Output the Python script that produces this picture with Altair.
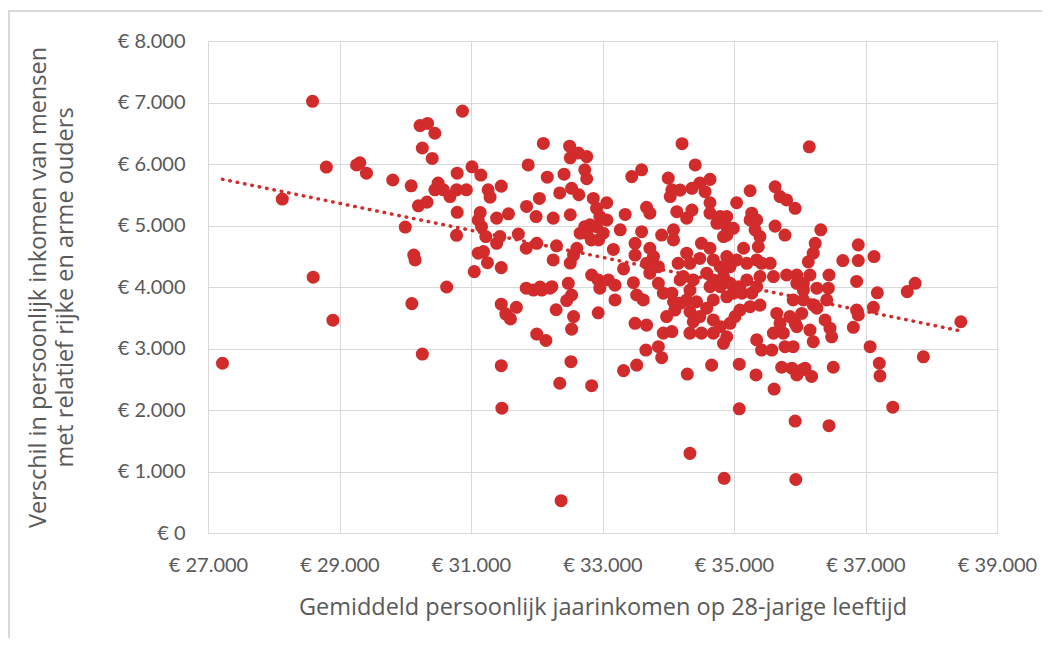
import altair as alt
import pandas as pd

# Gemiddeld persoonlijk jaarinkomen op 28-jarige leeftijd (euro)
inkomen = [
    27220, 28130, 28590, 28600, 28800, 28900, 29260, 29310, 29410, 29810,
    30000, 30090, 30100, 30130, 30150, 30200, 30225, 30260, 30260, 30330,
    30340, 30410, 30450, 30500, 30450, 30580, 30630, 30680, 30780, 30790,
    30790, 30780, 30870, 30930, 31015, 31050, 31110, 31110, 31140, 31150,
    31160, 31190, 31225, 31250, 31260, 31290, 31390, 31390, 31440, 31460,
    31460, 31460, 31460, 31470, 31530, 31570, 31600, 31690, 31720, 31840,
    31840, 31845, 31870, 31950, 31990, 32000, 32040, 32000, 32050, 32075,
    32100, 32140, 32160, 32200, 32230, 32250, 32250, 32295, 32300, 32350,
    32350, 32370, 32415, 32455, 32480, 32500, 32510, 32510, 32510, 32520,
    32530, 32530, 32530, 32560, 32560, 32610, 32630, 32640, 32660, 32730,
    32730, 32760, 32760, 32760, 32810, 32830, 32835, 32835, 32860, 32910,
    32910, 32935, 32935, 32940, 32960, 32960, 33010, 33065, 33065, 33090,
    33165, 33190, 33190, 33270, 33320, 33320, 33345, 33445, 33470, 33495,
    33495, 33495, 33520, 33520, 33595, 33595, 33620, 33660, 33670, 33670,
    33670, 33720, 33720, 33720, 33775, 33850, 33850, 33850, 33900, 33900,
    33925, 33925, 33975, 34000, 34030, 34055, 34055, 34055, 34080, 34080,
    34080, 34100, 34130, 34150, 34180, 34180, 34180, 34210, 34230, 34280,
    34280, 34280, 34290, 34330, 34330, 34330, 34330, 34330, 34360, 34360,
    34380, 34380, 34410, 34430, 34480, 34480, 34480, 34505, 34505, 34560,
    34585, 34585, 34635, 34635, 34635, 34635, 34635, 34660, 34685, 34685,
    34685, 34685, 34685, 34740, 34790, 34790, 34790, 34790, 34840, 34840,
    34840, 34850, 34890, 34890, 34890, 34890, 34890, 34890, 34940, 34940,
    34940, 34990, 34990, 35015, 35040, 35040, 35070, 35080, 35080, 35090,
    35120, 35145, 35195, 35195, 35245, 35245, 35245, 35270, 35270, 35320,
    35335, 35345, 35345, 35345, 35345, 35370, 35395, 35395, 35395, 35420,
    35420, 35550, 35575, 35600, 35600, 35610, 35625, 35625, 35650, 35700,
    35700, 35725, 35750, 35775, 35775, 35800, 35800, 35850, 35880, 35900,
    35900, 35930, 35930, 35930, 35940, 35955, 35955, 35955, 35955, 36030,
    36030, 36055, 36055, 36055, 36080, 36130, 36145, 36155, 36155, 36180,
    36205, 36205, 36205, 36235, 36260, 36260, 36320, 36385, 36410, 36435,
    36445, 36445, 36460, 36485, 36510, 36655, 36815, 36865, 36865, 36890,
    36890, 36890, 37070, 37120, 37130, 37180, 37210, 37220, 37415, 37635,
    37755, 37880, 38450,
]

# Verschil in persoonlijk inkomen (euro)
verschil = [
    2760, 5430, 7020, 4160, 5950, 3460, 5985, 6020, 5850, 5740,
    4975, 5645, 3730, 4520, 4440, 5320, 6625, 6260, 2910, 5380,
    6660, 6090, 6500, 5690, 5580, 5580, 4000, 5470, 5580, 5850,
    5215, 4840, 6860, 5580, 5955, 4250, 5090, 4550, 5210, 5820,
    4980, 4575, 4820, 4395, 5580, 5460, 5120, 4710, 4820, 5640,
    4315, 3720, 2720, 2030, 3560, 5190, 3480, 3670, 4860, 3980,
    4630, 5310, 5985, 3950, 5145, 4710, 5440, 3235, 4000, 3950,
    6335, 3130, 5785, 3980, 4005, 5120, 4440, 3630, 4670, 5530,
    2435, 525, 5835, 3780, 4060, 6290, 6100, 4390, 5175, 2785,
    5605, 3870, 3315, 4520, 3520, 4630, 6180, 5500, 4875, 5905,
    4980, 6120, 5760, 4875, 5010, 4765, 4195, 2395, 5440, 5280,
    4980, 4115, 3580, 4765, 5145, 3980, 4875, 5370, 5090, 4115,
    4610, 4030, 3790, 4930, 4295, 2640, 5180, 5795, 4070, 4710,
    4520, 3410, 3870, 2730, 4900, 5905, 3790, 2975, 5295, 4385,
    3380, 5200, 4630, 4225, 4495, 4330, 4060, 3030, 4845, 2850,
    3900, 3250, 3520, 5770, 5470, 5580, 3900, 3275, 4930, 4765,
    3760, 3625, 5225, 4385, 4115, 5575, 3735, 6330, 4170, 5120,
    4550, 3790, 2585, 4385, 3950, 3600, 3250, 1295, 5605, 5250,
    4115, 3435, 5985, 3760, 5690, 4465, 3520, 4710, 3250, 5550,
    4225, 3655, 5750, 5370, 5200, 4630, 4005, 2730, 4440, 4115,
    3790, 3465, 3250, 5035, 5145, 4330, 4005, 3355, 4820, 4170,
    3085, 890, 5145, 4980, 4845, 4495, 3840, 3190, 4330, 4060,
    3410, 4955, 3900, 3520, 5370, 4440, 4005, 2745, 2020, 3625,
    3900, 4630, 4385, 4115, 5565, 5090, 3680, 5200, 3900, 4930,
    2570, 5090, 4440, 4005, 3140, 4655, 4820, 4170, 3705, 4385,
    2975, 4385, 2975, 4170, 3250, 2340, 5630, 4990, 3570, 5470,
    3410, 2695, 3250, 4845, 3030, 5415, 4195, 3520, 2680, 3790,
    3030, 5280, 3410, 1820, 870, 4195, 4060, 3355, 2570, 3570,
    2650, 4060, 3950, 3790, 2680, 4410, 6280, 4195, 3300, 2545,
    4550, 3710, 3110, 4710, 3980, 3655, 4930, 3465, 3790, 3980,
    4195, 1745, 3330, 3190, 2695, 4430, 3345, 4090, 3625, 4685,
    4430, 3545, 3030, 3670, 4495, 3905, 2760, 2555, 2045, 3925,
    4060, 2865, 3435,
]

x_ticks = [27000, 29000, 31000, 33000, 35000, 37000, 39000]
y_ticks = [0, 1000, 2000, 3000, 4000, 5000, 6000, 7000, 8000]

x_title = "Gemiddeld persoonlijk jaarinkomen op 28-jarige leeftijd"
y_title = ["Verschil in persoonlijk inkomen van mensen", "met relatief rijke en arme ouders"]

df = pd.DataFrame({"inkomen": inkomen, "verschil": verschil})

RED = "#D22B2B"
GREY_TXT = "#595959"
GRID = "#D9D9D9"
euro_expr = "'€ ' + replace(format(datum.value, ',.0f'), ',', '.')"

x_enc = alt.X(
    "inkomen:Q",
    scale=alt.Scale(domain=[27000, 39000], nice=False, zero=False),
    axis=alt.Axis(
        values=x_ticks, labelExpr=euro_expr, title=x_title,
        ticks=False, domain=True, domainColor=GRID, domainWidth=1,
        labelPadding=22, labelFlush=False, labelOverlap=False,
        titleY=74, titleBaseline="middle",
    ),
)
y_enc = alt.Y(
    "verschil:Q",
    scale=alt.Scale(domain=[0, 8000], nice=False),
    axis=alt.Axis(
        values=y_ticks, labelExpr=euro_expr, title=y_title,
        ticks=False, domain=False, labelPadding=23,
        labelFlush=False, labelOverlap=False,
        titleX=-182, titleBaseline="top", titleLineHeight=27,
    ),
)

points = alt.Chart(df).mark_circle(size=170, color=RED, opacity=1).encode(x=x_enc, y=y_enc)

trend = (
    alt.Chart(df)
    .transform_regression("inkomen", "verschil")
    .mark_line(color=RED, strokeDash=[0.5, 7], strokeWidth=3.5, strokeCap="round")
    .encode(x="inkomen:Q", y="verschil:Q")
)

frame = alt.Chart(df).mark_rect(fill=None, stroke=GRID, strokeWidth=1.5).encode(
    x=alt.value(-199), x2=alt.value(860), y=alt.value(-30), y2=alt.value(640)
)

chart = (
    alt.layer(frame, trend, points)
    .properties(
        width=789, height=492,
        padding={"left": 200, "top": 33, "right": 45, "bottom": 105},
        autosize=alt.AutoSizeParams(type="none"),
        background="white",
    )
    .configure_view(stroke=None)
    .configure_axis(
        gridColor=GRID, gridWidth=1, labelColor=GREY_TXT, titleColor=GREY_TXT,
        labelFont="Lato", titleFont="Open Sans", labelFontSize=20, titleFontSize=23.5,
        titleFontWeight="normal",
    )
)

chart.save("out.html", embed_options={"renderer": "svg", "actions": False})
